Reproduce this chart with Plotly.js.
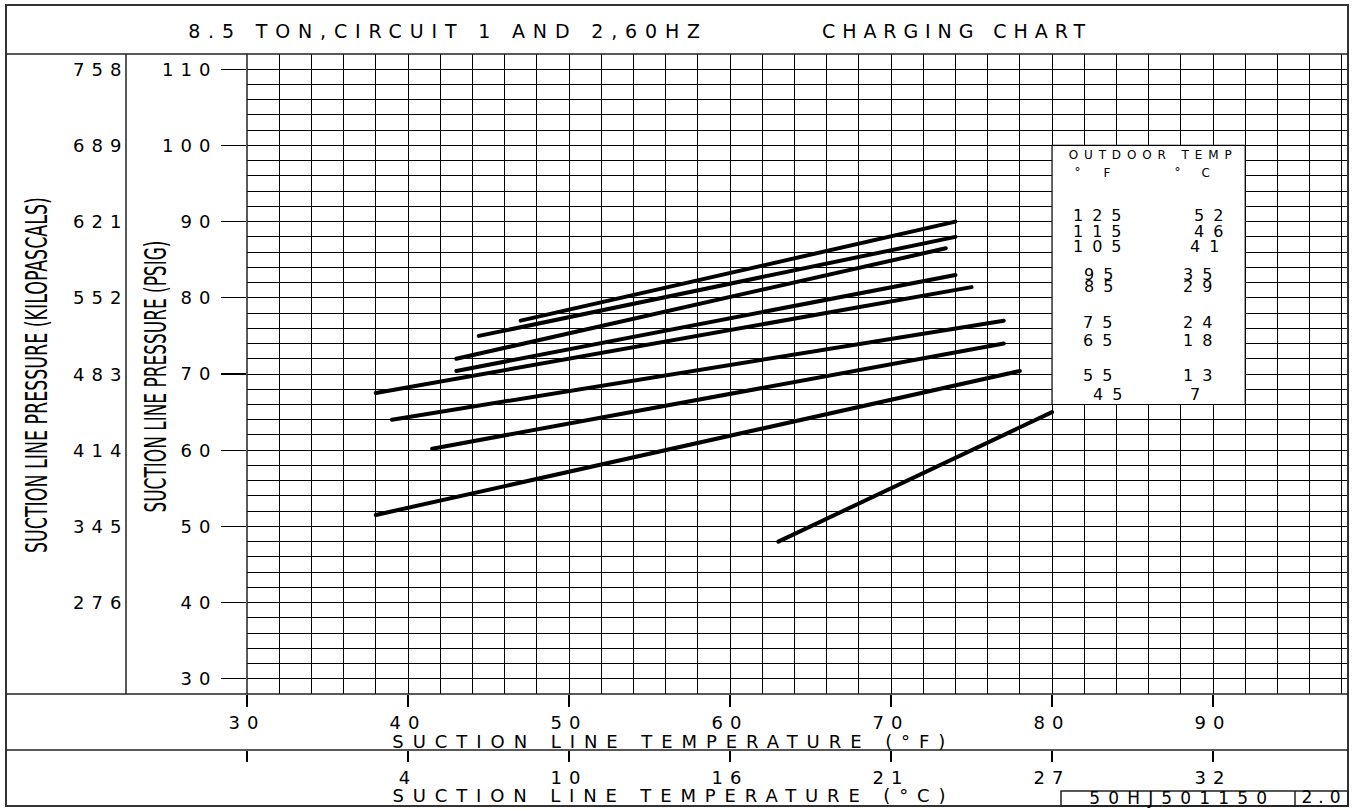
<!DOCTYPE html>
<html>
<head>
<meta charset="utf-8">
<script src="https://cdn.plot.ly/plotly-3.0.1.min.js"></script>
<style>
html, body { margin: 0; padding: 0; background: #fff; }
#chart { width: 1355px; height: 810px; }
text { letter-spacing: 7px; }
.js-line { stroke-linecap: round; }
</style>
</head>
<body>
<div id="chart"></div>
<script>
// ---------------- data ----------------
const outdoorTempF = [125, 115, 105, 95, 85, 75, 65, 55, 45];
const outdoorTempC = [52, 46, 41, 35, 29, 24, 18, 13, 7];
const startTempF = [47, 44.4, 43, 43, 38, 39, 41.5, 38, 63];
const startPsig  = [77, 75, 72, 70.4, 67.5, 64, 60.2, 51.5, 48];
const endTempF   = [74, 74, 73.4, 74, 75, 77, 77, 78, 80];
const endPsig    = [90, 88, 86.5, 83, 81.4, 77, 74, 70.4, 65];
const tempTicksF = [30, 40, 50, 60, 70, 80, 90];
const tempTickLabelsC = ['', '4', '10', '16', '21', '27', '32'];
const psigTicks = [30, 40, 50, 60, 70, 80, 90, 100, 110];
const kpaLabels = ['', '276', '345', '414', '483', '552', '621', '689', '758'];

// ---------------- layout helpers ----------------
const W = 1355, H = 810;
const FONT = '"DejaVu Sans", "Liberation Sans", sans-serif';
const NARROW = '"Liberation Sans Narrow", "DejaVu Sans Condensed", sans-serif';
const px = v => v / W;
const py = v => 1 - v / H;
const gridCol = '#000';

const annotations = [];
const specs = [];
function ann(text, x, y, size, opt) {
  opt = opt || {};
  const ls = opt.ls;
  const a = {
    text: String(text), showarrow: false,
    xref: 'paper', yref: opt.yref || 'paper',
    x: px(x + (ls ? ls / 2 : 0)),
    y: opt.yref ? y : py(y),
    xanchor: 'center', yanchor: 'middle',
    font: { family: opt.family || FONT, size: size, color: '#000' },
    textangle: opt.angle || 0
  };
  specs.push({ i: annotations.length, ls: ls, len: opt.len, adj: opt.adj });
  annotations.push(a);
}

// title
ann('8.5 TON,CIRCUIT 1 AND 2,60HZ', 444, 31, 19, { len: 512 });
ann('CHARGING CHART', 953.5, 31, 19, { len: 263 });
// axis titles
ann('SUCTION LINE TEMPERATURE (°F)', 668.5, 741, 18, { len: 553 });
ann('SUCTION LINE TEMPERATURE (°C)', 668.5, 795, 18, { len: 553 });
ann('SUCTION LINE PRESSURE (KILOPASCALS)', 36, 375, 30, { family: NARROW, angle: -90, len: 356, adj: 'spacingAndGlyphs' });
ann('SUCTION LINE PRESSURE (PSIG)', 155, 377, 30, { family: NARROW, angle: -90, len: 272, adj: 'spacingAndGlyphs' });
// kPa labels
psigTicks.forEach((p, i) => {
  if (kpaLabels[i]) ann(kpaLabels[i], 97, p, 18, { yref: 'y', ls: 7 });
});
// legend box text
ann('OUTDOOR TEMP', 1150, 155, 12, { len: 163 });
ann('°', 1077, 172, 12, {});
ann('F', 1107, 173, 12, {});
ann('°', 1177, 172, 12, {});
ann('C', 1205, 173, 12, {});
const legendRowY = [216, 231.7, 246.7, 274, 286.7, 322.7, 340.7, 375, 394.3];
const legendFX = [1097, 1097, 1097, 1098, 1098, 1097, 1097, 1097, 1107];
const legendCX = [1208, 1208, 1204, 1197, 1197, 1197, 1197, 1197, 1195];
outdoorTempF.forEach((t, i) => ann(t, legendFX[i], legendRowY[i], 16, { ls: 9 }));
outdoorTempC.forEach((t, i) => ann(t, legendCX[i], legendRowY[i], 16, { ls: 9 }));
// drawing number
ann('50HJ501150', 1178, 798, 17, { len: 178 });
ann('2.0', 1321, 797, 17, { ls: 6 });

// ---------------- shapes ----------------
function pline(x0, y0, x1, y1, w) {
  return { type: 'line', xref: 'paper', yref: 'paper', x0: px(x0), y0: py(y0), x1: px(x1), y1: py(y1),
           line: { color: '#222', width: w || 1.5 }, layer: 'above' };
}
const shapes = [
  { type: 'rect', xref: 'paper', yref: 'paper', x0: px(6), x1: px(1348), y0: py(5), y1: py(806),
    line: { color: '#333', width: 2 }, fillcolor: 'rgba(0,0,0,0)', layer: 'above' },
  pline(6, 54, 1348, 54),
  pline(126, 54, 126, 694),
  pline(247, 54, 247, 694),
  pline(6, 694, 1348, 694),
  pline(6, 750, 1348, 750),
  { type: 'rect', xref: 'paper', yref: 'paper', x0: px(1061), x1: px(1348), y0: py(791), y1: py(806),
    line: { color: '#222', width: 1.5 }, fillcolor: 'rgba(0,0,0,0)', layer: 'above' },
  pline(1295, 791, 1295, 806),
  { type: 'rect', xref: 'x', yref: 'y', x0: 80, x1: 92, y0: 66, y1: 100,
    fillcolor: '#fff', line: { color: '#000', width: 1.2 }, layer: 'above' }
];

// ---------------- traces ----------------
const traces = outdoorTempF.map((t, i) => ({
  type: 'scatter', mode: 'lines',
  x: [startTempF[i], endTempF[i]],
  y: [startPsig[i], endPsig[i]],
  name: t + ' °F',
  line: { color: '#000', width: 4 },
  hoverinfo: 'skip', showlegend: false
}));
traces.push({ type: 'scatter', mode: 'lines', x: [], y: [], xaxis: 'x2', yaxis: 'y2', showlegend: false, hoverinfo: 'skip' });

const layout = {
  width: W, height: H,
  margin: { l: 0, r: 0, t: 0, b: 0, pad: 0 },
  paper_bgcolor: '#fff', plot_bgcolor: '#fff',
  showlegend: false,
  font: { family: FONT, size: 18, color: '#000' },
  xaxis: {
    domain: [247 / W, 1347 / W], range: [30, 98.32],
    tickmode: 'linear', tick0: 30, dtick: 10,
    ticks: 'outside', ticklen: 12, tickwidth: 1.2, tickcolor: '#000',
    showgrid: true, gridcolor: gridCol, gridwidth: 1,
    minor: { tick0: 30, dtick: 2, showgrid: true, gridcolor: gridCol, gridwidth: 1, ticks: '' },
    showline: false, zeroline: false, anchor: 'y', fixedrange: true,
    tickfont: { family: FONT, size: 18, color: '#000' }
  },
  yaxis: {
    domain: [1 - 694 / H, 1 - 54 / H], range: [28, 112],
    tickmode: 'linear', tick0: 30, dtick: 10,
    ticks: 'outside', ticklen: 25, tickwidth: 1.2, tickcolor: '#000',
    showgrid: true, gridcolor: gridCol, gridwidth: 1,
    minor: { tick0: 28, dtick: 2, showgrid: true, gridcolor: gridCol, gridwidth: 1, ticks: '' },
    showline: false, zeroline: false, anchor: 'x', fixedrange: true,
    tickfont: { family: FONT, size: 18, color: '#000' }
  },
  xaxis2: {
    domain: [247 / W, 1347 / W], range: [30, 98.32],
    tickmode: 'array', tickvals: tempTicksF, ticktext: tempTickLabelsC,
    ticks: 'outside', ticklen: 11, tickwidth: 1.2, tickcolor: '#000',
    showgrid: false, showline: false, zeroline: false, anchor: 'y2', fixedrange: true,
    tickfont: { family: FONT, size: 18, color: '#000' }
  },
  yaxis2: {
    domain: [1 - 750 / H, 1 - 749 / H], range: [0, 1], visible: false, anchor: 'x2', fixedrange: true
  },
  shapes: shapes,
  annotations: annotations
};

Plotly.newPlot('chart', traces, layout, { staticPlot: true, displayModeBar: false }).then(gd => {
  specs.forEach(s => {
    const g = gd.querySelector('.annotation[data-index="' + s.i + '"]');
    if (!g) return;
    const t = g.querySelector('text.annotation-text');
    if (!t) return;
    if (s.len != null) {
      t.style.letterSpacing = '0px';
      t.setAttribute('textLength', s.len);
      t.setAttribute('lengthAdjust', s.adj || 'spacing');
    } else if (s.ls != null) {
      t.style.letterSpacing = s.ls + 'px';
    } else {
      t.style.letterSpacing = '0px';
    }
  });
});
</script>
</body>
</html>
